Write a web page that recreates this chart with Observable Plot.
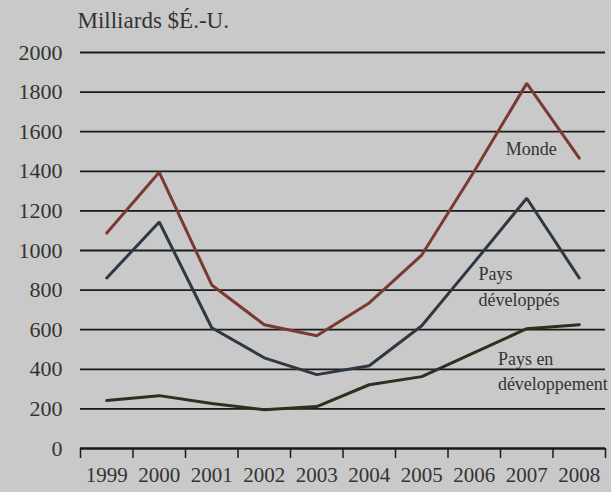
<!DOCTYPE html>
<html>
<head>
<meta charset="utf-8">
<script src="https://cdn.jsdelivr.net/npm/d3@7"></script>
<script src="https://cdn.jsdelivr.net/npm/@observablehq/plot@0.6"></script>
<style>
  html, body { margin: 0; padding: 0; background: #c9c9c9; }
  #chart svg { display: block; }
  #chart svg, #chart svg text { font-family: 'Liberation Serif', 'DejaVu Serif', serif !important; }
</style>
</head>
<body>
<div id="chart"></div>
<script>
const title = "Milliards $É.-U.";
const years = [1999, 2000, 2001, 2002, 2003, 2004, 2005, 2006, 2007, 2008];
const yTicks = [0, 200, 400, 600, 800, 1000, 1200, 1400, 1600, 1800, 2000];
const monde = [1088, 1395, 826, 625, 569, 735, 977, 1400, 1844, 1466];
const developpes = [861, 1144, 610, 458, 373, 418, 620, 940, 1264, 861];
const enDeveloppement = [242, 267, 227, 196, 212, 322, 363, 484, 605, 625];
const seriesNames = ["Monde", "Pays développés", "Pays en développement"];
const seriesColors = ["#7a3a31", "#2e3843", "#27331f"];
const labels = [
  {text: "Monde", year: 2006.6, value: 1521},
  {text: "Pays\ndéveloppés", year: 2006.08, value: 826},
  {text: "Pays en\ndéveloppement", year: 2006.45, value: 398}
];

const boundaries = [...years.map(y => y - 0.5), years[years.length - 1] + 0.5];
const rows = [];
[monde, developpes, enDeveloppement].forEach((vals, i) => {
  vals.forEach((v, j) => rows.push({series: seriesNames[i], year: years[j], value: v}));
});

const chart = Plot.plot({
  width: 611,
  height: 492,
  marginLeft: 80,
  marginRight: 6,
  marginTop: 52,
  marginBottom: 44,
  style: {background: "#c9c9c9", fontSize: "21px", color: "#333"},
  x: {domain: [boundaries[0], boundaries[boundaries.length - 1]]},
  y: {domain: [0, 2000]},
  color: {domain: seriesNames, range: seriesColors},
  marks: [
    Plot.gridY(yTicks.filter(d => d > 0), {stroke: "#1a1a1a", strokeOpacity: 1, strokeWidth: 1.8}),
    Plot.axisY({ticks: yTicks, tickSize: 0, tickPadding: 18, tickFormat: d => String(d), label: null, fontSize: 22, fill: "#333"}),
    Plot.axisX({ticks: boundaries, tickSize: 10, tickFormat: () => "", stroke: "#1a1a1a", strokeWidth: 1.5, label: null}),
    Plot.axisX({ticks: years, tickSize: 0, tickPadding: 19, tickFormat: d => String(d), label: null, fontSize: 21, fill: "#333"}),
    Plot.ruleY([0], {stroke: "#1a1a1a", strokeWidth: 2.5}),
    Plot.line(rows, {x: "year", y: "value", z: "series", stroke: "series", strokeWidth: 3, strokeLinejoin: "miter"}),
    Plot.text(labels, {x: "year", y: "value", text: "text", textAnchor: "start", lineAnchor: "middle", lineHeight: 1.4, fontSize: 18, fill: "#333"}),
    Plot.text([title], {frameAnchor: "top-left", dx: -3, dy: -32, textAnchor: "start", lineAnchor: "middle", fontSize: 23, fill: "#333"})
  ]
});
document.getElementById("chart").appendChild(chart);
</script>
</body>
</html>
